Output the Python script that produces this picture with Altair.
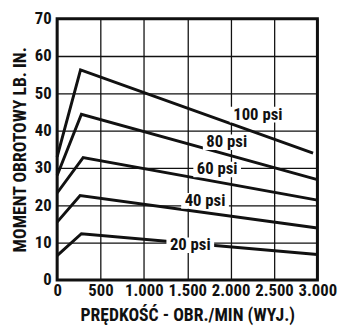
import altair as alt
import pandas as pd

# Series: pressure curves (rpm, torque)
series = ["100 psi", "80 psi", "60 psi", "40 psi", "20 psi"]
rpm_points = [
    [0, 270, 2950],
    [0, 280, 3000],
    [0, 300, 3000],
    [0, 265, 3000],
    [0, 280, 3000],
]
torque_points = [
    [33.0, 56.3, 34.0],
    [28.0, 44.4, 26.9],
    [23.3, 32.8, 21.4],
    [15.5, 22.6, 13.9],
    [6.5, 12.4, 6.8],
]

# Label annotations
label_text = ["100 psi", "80 psi", "60 psi", "40 psi", "20 psi"]
label_x = [2030, 1720, 1610, 1470, 1300]
label_y = [44.3, 36.9, 29.6, 21.2, 9.3]
label_w = [600, 510, 510, 510, 510]

x_ticks = [0, 500, 1000, 1500, 2000, 2500, 3000]
y_ticks = [0, 10, 20, 30, 40, 50, 60, 70]

FONT = "Liberation Sans Narrow, Roboto Condensed, DejaVu Sans Condensed, Arial Narrow, Liberation Sans, sans-serif"

rows = []
for s, xs, ys in zip(series, rpm_points, torque_points):
    for i, (xv, yv) in enumerate(zip(xs, ys)):
        rows.append({"series": s, "rpm": xv, "torque": yv, "order": i})
lines_df = pd.DataFrame(rows)

lab_df = pd.DataFrame({
    "text": label_text,
    "x": label_x,
    "y": label_y,
    "x0": [a - 40 for a in label_x],
    "x1": [a + w for a, w in zip(label_x, label_w)],
    "y0": [b - 2.1 for b in label_y],
    "y1": [b + 2.1 for b in label_y],
})

xscale = alt.Scale(domain=[0, 3000], nice=False, zero=False)
yscale = alt.Scale(domain=[0, 70], nice=False)

x_axis = alt.Axis(
    values=x_ticks,
    labelExpr="datum.value == 0 ? '0' : replace(format(datum.value, ','), ',', '.')",
    title="PRĘDKOŚĆ - OBR./MIN (WYJ.)",
    grid=True, gridColor="#111", gridWidth=1.3, gridOpacity=1,
    ticks=False, domain=False,
    labelFont=FONT, labelFontSize=17, labelFontWeight="bold", labelColor="#111",
    labelPadding=3, labelFlush=False, labelOverlap=False,
    titleFont=FONT, titleFontSize=18, titleFontWeight="bold", titleColor="#111",
    titlePadding=8,
)
y_axis = alt.Axis(
    values=y_ticks,
    title="MOMENT OBROTOWY LB. IN.",
    grid=True, gridColor="#111", gridWidth=1.3, gridOpacity=1,
    ticks=False, domain=False,
    labelFont=FONT, labelFontSize=17, labelFontWeight="bold", labelColor="#111",
    labelPadding=6, labelFlush=False, labelOverlap=False,
    titleFont=FONT, titleFontSize=18, titleFontWeight="bold", titleColor="#111",
    titlePadding=5,
)

lines = alt.Chart(lines_df).mark_line(color="#111", strokeWidth=3, strokeJoin="miter").encode(
    x=alt.X("rpm:Q", scale=xscale, axis=x_axis),
    y=alt.Y("torque:Q", scale=yscale, axis=y_axis),
    detail="series:N",
    order="order:Q",
)

rects = alt.Chart(lab_df).mark_rect(color="white").encode(
    x=alt.X("x0:Q", scale=xscale, axis=x_axis),
    x2="x1:Q",
    y=alt.Y("y0:Q", scale=yscale, axis=y_axis),
    y2="y1:Q",
)

texts = alt.Chart(lab_df).mark_text(
    align="left", baseline="middle", font=FONT, fontSize=17, fontWeight="bold", color="#111"
).encode(
    x=alt.X("x:Q", scale=xscale, axis=x_axis),
    y=alt.Y("y:Q", scale=yscale, axis=y_axis),
    text="text:N",
)

chart = alt.layer(lines, rects, texts).properties(
    width=265, height=266,
    autosize=alt.AutoSizeParams(type="none"),
    padding={"left": 50, "top": 8, "right": 22, "bottom": 45},
).configure_view(stroke="#111", strokeWidth=3)

chart.save("out.html", embed_options={"renderer": "svg", "actions": False})
